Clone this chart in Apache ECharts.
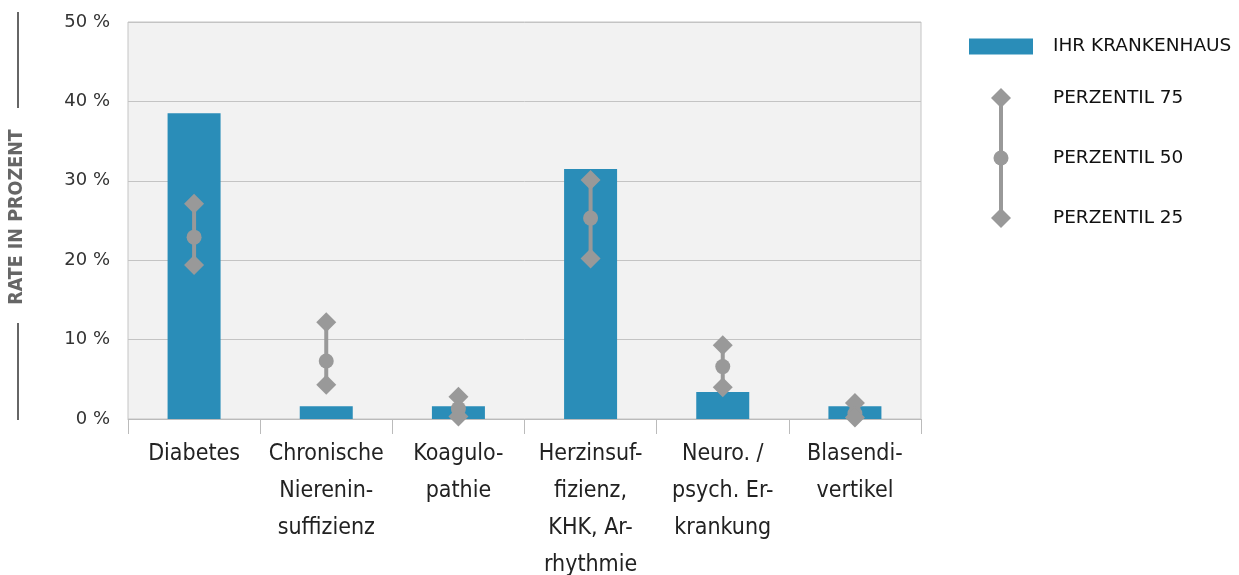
<!DOCTYPE html>
<html>
<head>
<meta charset="utf-8">
<script src="https://cdn.jsdelivr.net/npm/echarts@6/dist/echarts.min.js"></script>
<style>
  html, body { margin: 0; padding: 0; background: #ffffff; }
  #chart { width: 1239px; height: 575px; }
</style>
</head>
<body>
<div id="chart"></div>
<script>
// Category labels, hyphenated as they appear under the axis
const categories = [
  'Diabetes',
  'Chronische\nNierenin-\nsuffizienz',
  'Koagulo-\npathie',
  'Herzinsuf-\nfizienz,\nKHK, Ar-\nrhythmie',
  'Neuro. /\npsych. Er-\nkrankung',
  'Blasendi-\nvertikel'
];

// Rate of the own hospital (%)
const hospitalRate = [38.5, 1.6, 1.6, 31.5, 3.4, 1.6];

// Benchmark percentiles (%)
const p75 = [27.1, 12.2, 2.8, 30.1, 9.3, 2.0];
const p50 = [22.9, 7.3, 1.3, 25.3, 6.6, 0.7];
const p25 = [19.4, 4.3, 0.3, 20.2, 4.0, 0.2];

const yTicks = { min: 0, max: 50, interval: 10 };

const BAR = '#2a8db8';
const GREY = '#999999';
const narrow = '"DejaVu Sans Condensed", "Liberation Sans Narrow", sans-serif';
const plain = '"DejaVu Sans", sans-serif';

// legend icons: 20x20 box, circle of diameter 15 centred inside it
const smallCircle = 'path://M0 0M20 20M17.5 10A7.5 7.5 0 1 1 2.5 10A7.5 7.5 0 1 1 17.5 10Z';

const rangeData = categories.map((c, i) => [i, p25[i], p75[i]]);

const chart = echarts.init(document.getElementById('chart'), null, { renderer: 'canvas' });

chart.setOption({
  animation: false,
  backgroundColor: '#ffffff',
  grid: {
    left: 128, right: 318, top: 22, bottom: 156,
    containLabel: false, outerBoundsMode: 'none',
    show: true, backgroundColor: '#f2f2f2', borderColor: '#c4c4c4', borderWidth: 1
  },
  legend: [
    {
      orient: 'vertical', left: 969, top: 37, padding: 0,
      itemWidth: 64, itemHeight: 16,
      data: [{ name: 'IHR KRANKENHAUS', icon: 'rect' }],
      textStyle: { fontFamily: plain, fontSize: 18.5, color: '#111', padding: [0, 0, 0, 15] },
      selectedMode: false
    },
    {
      orient: 'vertical', left: 991, top: 88, padding: 0,
      itemWidth: 20, itemHeight: 20, itemGap: 40,
      data: [
        { name: 'PERZENTIL 75', icon: 'diamond' },
        { name: 'PERZENTIL 50', icon: smallCircle },
        { name: 'PERZENTIL 25', icon: 'diamond' }
      ],
      textStyle: { fontFamily: plain, fontSize: 18.5, color: '#111', padding: [0, 0, 0, 37] },
      selectedMode: false
    }
  ],
  graphic: [
    // connector behind the percentile legend symbols
    { type: 'line', z: 1, shape: { x1: 1001, y1: 98, x2: 1001, y2: 218 },
      style: { stroke: GREY, lineWidth: 4 } },
    // bracket lines around the y-axis title
    { type: 'line', shape: { x1: 18, y1: 12, x2: 18, y2: 108 },
      style: { stroke: '#666', lineWidth: 2 } },
    { type: 'line', shape: { x1: 18, y1: 323, x2: 18, y2: 420 },
      style: { stroke: '#666', lineWidth: 2 } }
  ],
  xAxis: {
    type: 'category',
    data: categories,
    axisLine: { lineStyle: { color: '#bbbbbb', width: 1 } },
    axisTick: { show: true, length: 15, lineStyle: { color: '#bbbbbb' } },
    axisLabel: {
      interval: 0, margin: 17,
      fontFamily: narrow, fontSize: 23, lineHeight: 37, color: '#222'
    }
  },
  yAxis: {
    type: 'value',
    min: yTicks.min, max: yTicks.max, interval: yTicks.interval,
    name: 'RATE IN PROZENT',
    nameLocation: 'middle', nameRotate: 90, nameGap: 101,
    nameTextStyle: { fontFamily: narrow, fontSize: 19.5, fontWeight: 'bold', color: '#666', padding: [0, 0, 0, 7] },
    axisLine: { show: false },
    axisTick: { show: false },
    splitLine: { lineStyle: { color: '#c4c4c4', width: 1 } },
    axisLabel: {
      formatter: '{value} %', margin: 18,
      fontFamily: plain, fontSize: 18, color: '#333'
    }
  },
  series: [
    {
      name: 'IHR KRANKENHAUS',
      type: 'bar',
      data: hospitalRate,
      barWidth: 53,
      itemStyle: { color: BAR },
      z: 2
    },
    {
      name: 'range',
      type: 'custom',
      data: rangeData,
      z: 3,
      renderItem: function (params, api) {
        const a = api.coord([api.value(0), api.value(1)]);
        const b = api.coord([api.value(0), api.value(2)]);
        return {
          type: 'line',
          shape: { x1: a[0], y1: a[1], x2: b[0], y2: b[1] },
          style: { stroke: GREY, lineWidth: 4 }
        };
      }
    },
    {
      name: 'PERZENTIL 75', type: 'scatter', data: p75,
      symbol: 'diamond', symbolSize: 20, itemStyle: { color: GREY, opacity: 1 }, z: 4
    },
    {
      name: 'PERZENTIL 50', type: 'scatter', data: p50,
      symbol: 'circle', symbolSize: 15, itemStyle: { color: GREY, opacity: 1 }, z: 4
    },
    {
      name: 'PERZENTIL 25', type: 'scatter', data: p25,
      symbol: 'diamond', symbolSize: 20, itemStyle: { color: GREY, opacity: 1 }, z: 4
    }
  ]
});
</script>
</body>
</html>
